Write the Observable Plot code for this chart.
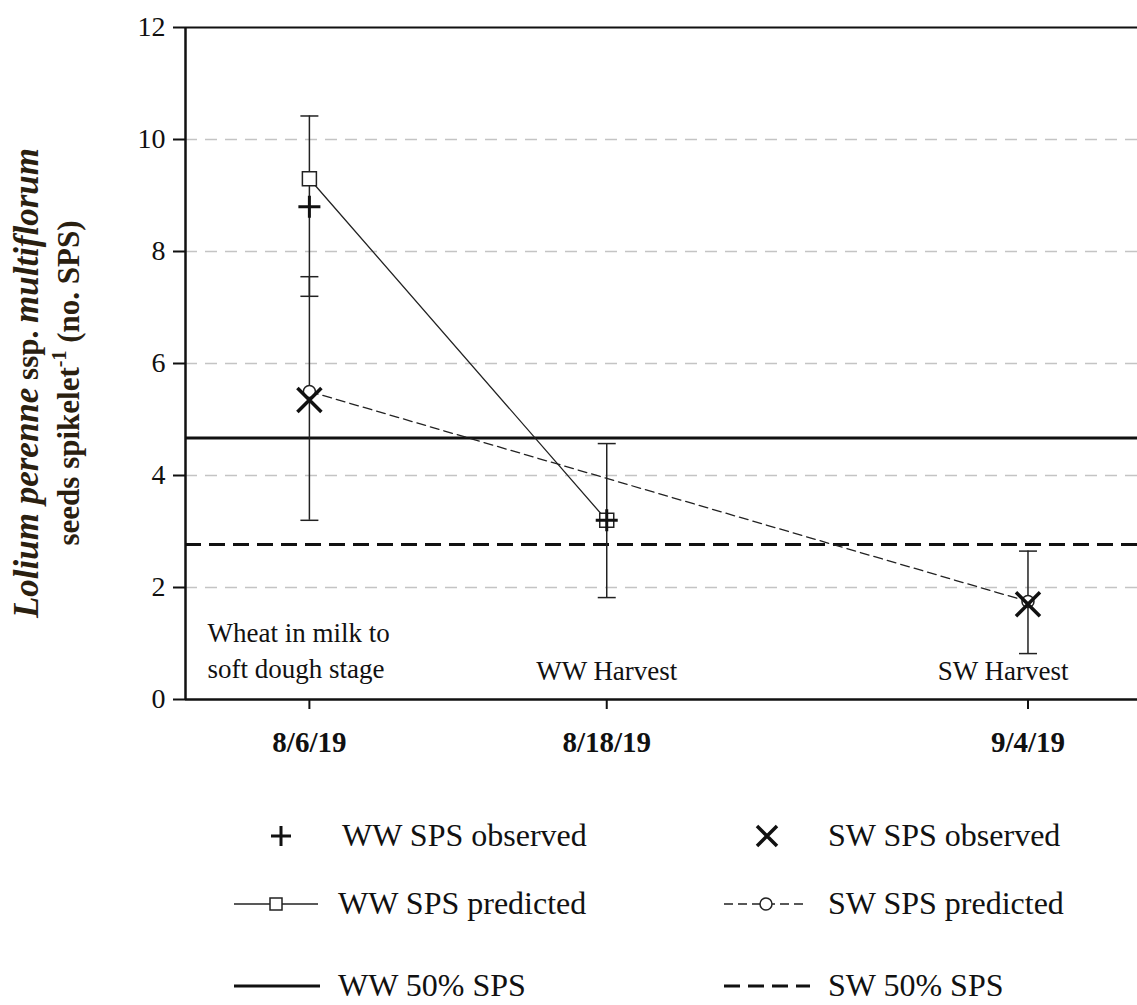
<!DOCTYPE html>
<html><head><meta charset="utf-8">
<script src="https://cdn.jsdelivr.net/npm/d3@7"></script>
<script src="https://cdn.jsdelivr.net/npm/@observablehq/plot@0.6"></script>
<style>
body{margin:0;background:#fff;font-family:"Liberation Serif",serif;}
#legend{position:relative;width:1137px;height:220px;font-size:32px;color:#111;}
.it{position:absolute;display:flex;align-items:center;}
.it svg{margin-right:18px;}
</style></head><body>
<div id="chart"></div>
<div id="legend"></div>
<script>
const D = s => new Date(s + "T00:00:00Z");
const dates = ["2019-08-06","2019-08-18","2019-09-04"];
const dateLabels = ["8/6/19","8/18/19","9/4/19"];
const yTicks = [0,2,4,6,8,10,12];
const wwObsDates = ["2019-08-06","2019-08-18"];
const wwObs = [8.8, 3.2];
const wwObsLo = [7.2, 1.82];
const wwObsHi = [10.42, 4.57];
const swObsDates = ["2019-08-06","2019-09-04"];
const swObs = [5.35, 1.7];
const swObsLo = [3.2, 0.82];
const swObsHi = [7.55, 2.65];
const wwPredDates = ["2019-08-06","2019-08-18"];
const wwPred = [9.3, 3.2];
const swPredDates = ["2019-08-06","2019-09-04"];
const swPred = [5.5, 1.75];
const ww50 = 4.67, sw50 = 2.77;
const notesLeft = [
  {d:"2019-08-01", y:1.18, t:"Wheat in milk to"},
  {d:"2019-08-01", y:0.53, t:"soft dough stage"}
];
const notesMid = [
  {d:"2019-08-18", y:0.5, t:"WW Harvest"},
  {d:"2019-09-03", y:0.5, t:"SW Harvest"}
];

const ww = wwObs.map((v,i)=>({x:D(wwObsDates[i]), y:v, lo:wwObsLo[i], hi:wwObsHi[i]}));
const sw = swObs.map((v,i)=>({x:D(swObsDates[i]), y:v, lo:swObsLo[i], hi:swObsHi[i]}));
const wwp = wwPred.map((v,i)=>({x:D(wwPredDates[i]), y:v}));
const swp = swPred.map((v,i)=>({x:D(swPredDates[i]), y:v}));
const bars = ww.concat(sw);
const caps = bars.flatMap(b=>[{x:b.x,y:b.lo},{x:b.x,y:b.hi}]);

const R = s => Math.sqrt(s/Math.PI);
const hline = {draw(c,s){const r=R(s);c.moveTo(-r,0);c.lineTo(r,0);}};
const plus = {draw(c,s){const r=R(s);c.moveTo(-r,0);c.lineTo(r,0);c.moveTo(0,-r);c.lineTo(0,r);}};
const cross = {draw(c,s){const r=R(s);c.moveTo(-r,-r);c.lineTo(r,r);c.moveTo(-r,r);c.lineTo(r,-r);}};
const sq = {draw(c,s){const r=R(s);c.rect(-r,-r,2*r,2*r);}};

const xd = [D("2019-08-01"), new Date(D("2019-09-08").getTime()+0.42*864e5)];
const chart = Plot.plot({
  width:1137, height:785,
  marginLeft:185, marginRight:0, marginTop:27, marginBottom:86,
  style:{fontFamily:"Liberation Serif", fontSize:"28px", color:"#111", background:"#fff"},
  x:{type:"utc", domain:xd},
  y:{domain:[0,12]},
  marks:[
    Plot.ruleY([2,4,6,8,10], {stroke:"#c4c4c4", strokeWidth:1.5, strokeDasharray:"12,8"}),
    Plot.ruleY([ww50], {stroke:"#111", strokeWidth:3}),
    Plot.ruleY([sw50], {stroke:"#111", strokeWidth:3, strokeDasharray:"16,8"}),
    Plot.ruleY([12], {stroke:"#111", strokeWidth:2}),
    Plot.ruleY([0], {stroke:"#111", strokeWidth:2.5}),
    Plot.ruleX([xd[0]], {stroke:"#111", strokeWidth:2.5}),
    Plot.axisY({ticks:yTicks, tickSize:12, tickPadding:8, label:null, fontSize:28, strokeWidth:2}),
    Plot.axisX({ticks:dates.map(D), tickFormat:(d,i)=>dateLabels[i], tickSize:10, tickPadding:22, label:null, fontSize:29, fontWeight:"bold", strokeWidth:2}),
    Plot.ruleX(bars, {x:"x", y1:"lo", y2:"hi", stroke:"#222", strokeWidth:1.5}),
    Plot.dot(caps, {x:"x", y:"y", symbol:hline, r:9, stroke:"#222", strokeWidth:1.5}),
    Plot.line(wwp, {x:"x", y:"y", stroke:"#222", strokeWidth:1.3}),
    Plot.line(swp, {x:"x", y:"y", stroke:"#222", strokeWidth:1.3, strokeDasharray:"9,5"}),
    Plot.dot(wwp, {x:"x", y:"y", symbol:sq, r:7, stroke:"#222", fill:"#fff", strokeWidth:1.5}),
    Plot.dot(swp, {x:"x", y:"y", r:6, stroke:"#222", fill:"#fff", strokeWidth:1.5}),
    Plot.dot(ww, {x:"x", y:"y", symbol:plus, r:11, stroke:"#111", strokeWidth:3}),
    Plot.dot(sw, {x:"x", y:"y", symbol:cross, r:12, stroke:"#111", strokeWidth:3.5}),
    Plot.text(notesLeft, {x:d=>D(d.d), y:"y", text:"t", textAnchor:"start", dx:22, fontSize:27, fill:"#111"}),
    Plot.text(notesMid, {x:d=>D(d.d), y:"y", text:"t", textAnchor:"middle", fontSize:27, fill:"#111"})
  ]
});
const svg = d3.select(chart);
const g = svg.append("g").attr("transform","translate(45,383) rotate(-90)")
  .attr("font-family","Liberation Serif").attr("font-weight","bold").attr("font-size",31).attr("fill","#2a2010").attr("text-anchor","middle");
const t1 = g.append("text").attr("y",-7);
t1.append("tspan").attr("font-style","italic").attr("font-size",35).text("Lolium perenne");
t1.append("tspan").text(" ssp. ");
t1.append("tspan").attr("font-style","italic").attr("font-size",35).text("multiflorum");
const t2 = g.append("text").attr("y",34);
t2.append("tspan").text("seeds spikelet");
t2.append("tspan").attr("font-size",20).attr("dy",-13).text("-1");
t2.append("tspan").attr("dy",13).text(" (no. SPS)");
document.getElementById("chart").appendChild(chart);

const items = [
  {x:236,y:50,t:"WW SPS observed",k:"plus"},
  {x:722,y:50,t:"SW SPS observed",k:"cross"},
  {x:232,y:118,t:"WW SPS predicted",k:"sq"},
  {x:722,y:118,t:"SW SPS predicted",k:"circ"},
  {x:232,y:200,t:"WW 50% SPS",k:"solid"},
  {x:722,y:200,t:"SW 50% SPS",k:"dash"}
];
const icon = k => {
  const m={
    plus:`<path d="M35 15h20M45 5v20" stroke="#111" stroke-width="3"/>`,
    cross:`<path d="M35 5l20 20M35 25l20-20" stroke="#111" stroke-width="3.5"/>`,
    sq:`<path d="M2 15h84" stroke="#222" stroke-width="1.5"/><rect x="38" y="9" width="12" height="12" fill="#fff" stroke="#222" stroke-width="1.5"/>`,
    circ:`<path d="M2 15h84" stroke="#222" stroke-width="1.5" stroke-dasharray="9,5"/><circle cx="44" cy="15" r="6" fill="#fff" stroke="#222" stroke-width="1.5"/>`,
    solid:`<path d="M2 15h86" stroke="#111" stroke-width="3"/>`,
    dash:`<path d="M2 15h86" stroke="#111" stroke-width="3" stroke-dasharray="16,8"/>`
  };
  return `<svg width="88" height="30">${m[k]}</svg>`;
};
document.getElementById("legend").innerHTML = items.map(d=>
  `<div class="it" style="left:${d.x}px;top:${d.y-18}px">${icon(d.k)}<span>${d.t}</span></div>`).join("");
</script></body></html>
